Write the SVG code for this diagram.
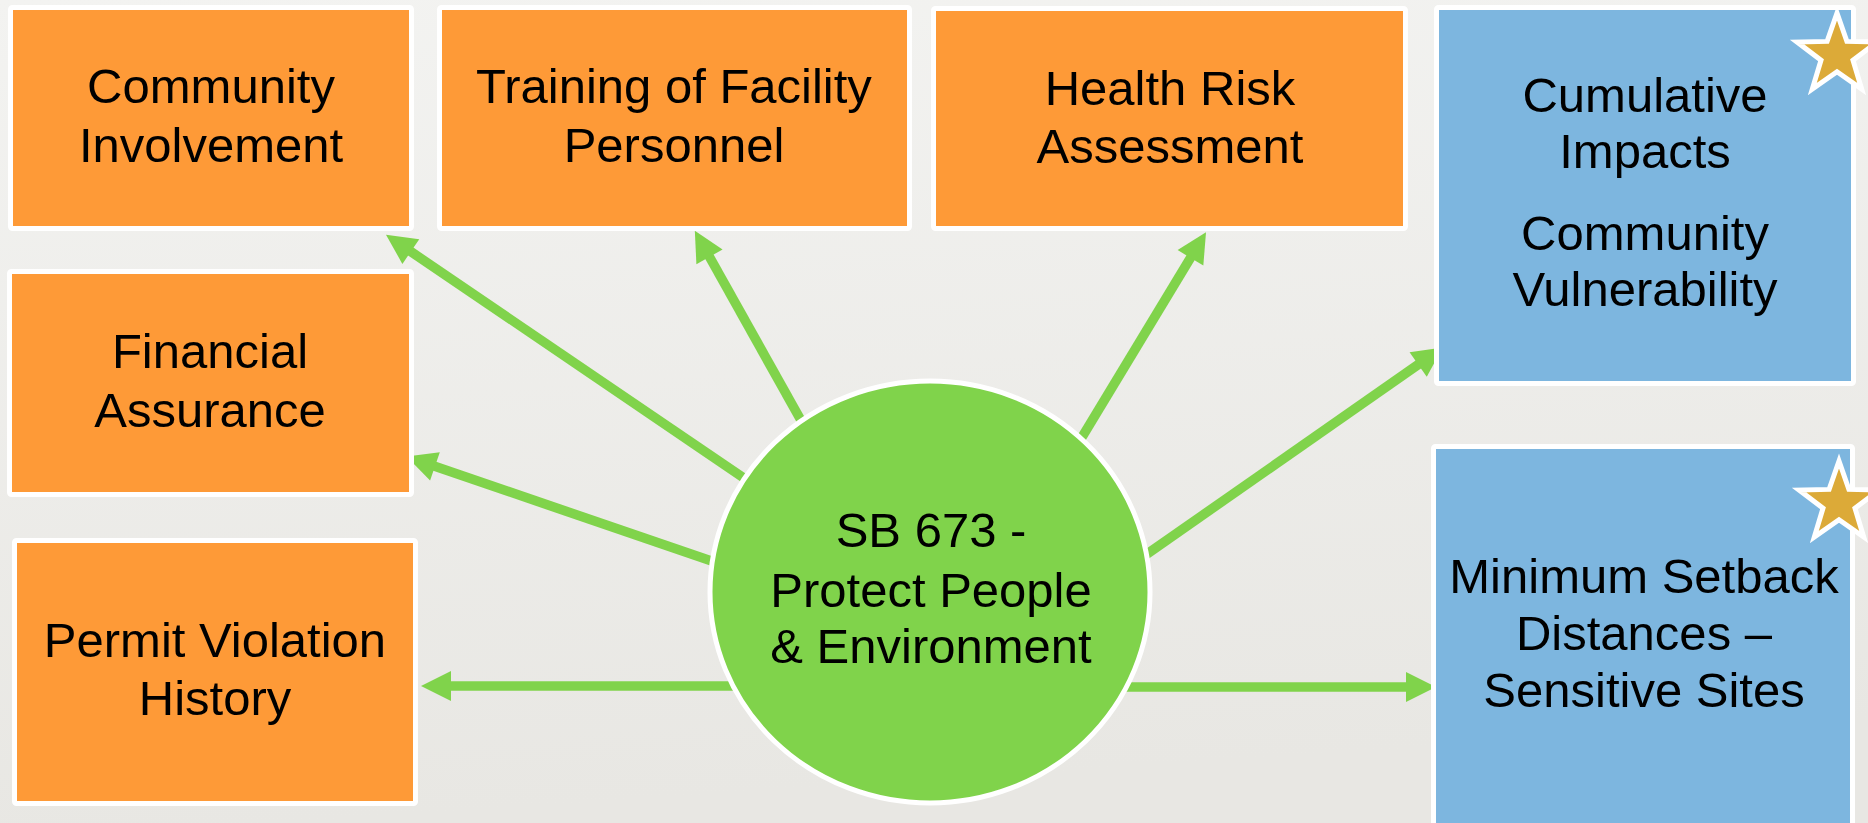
<svg xmlns="http://www.w3.org/2000/svg" width="1868" height="823" viewBox="0 0 1868 823">
  <defs>
    <linearGradient id="bg" x1="0" y1="0" x2="0.15" y2="1">
      <stop offset="0" stop-color="#f3f3f1"/>
      <stop offset="1" stop-color="#e8e7e3"/>
    </linearGradient>
    <marker id="arrow" markerUnits="userSpaceOnUse" markerWidth="32" markerHeight="32" refX="1" refY="15" orient="auto" overflow="visible">
      <path d="M0,0 L30,15 L0,30 Z" fill="#80d34b"/>
    </marker>
    <path id="star" d="M0,-42 L9.87,-13.59 L39.94,-12.98 L15.98,5.19 L24.69,33.98 L0,16.8 L-24.69,33.98 L-15.98,5.19 L-39.94,-12.98 L-9.87,-13.59 Z"/>
  </defs>
  <style>
    .orange rect { fill: #fe9a37; stroke: #ffffff; stroke-width: 5; }
    .blue rect { fill: #7db6df; stroke: #ffffff; stroke-width: 5; }
    .label { font-family: "Liberation Sans", Arial, sans-serif; font-size: 49px; fill: #000000; text-anchor: middle; }
    .conn line { stroke: #80d34b; stroke-width: 9.5; marker-end: url(#arrow); }
    .star { fill: #dcaa38; stroke: #ffffff; stroke-width: 5; stroke-linejoin: miter; }
  </style>
  <rect x="0" y="0" width="1868" height="823" fill="url(#bg)"/>

  <g id="connectors" class="conn">
    <line x1="763" y1="491" x2="410" y2="251"/>
    <line x1="732" y1="568" x2="434" y2="466"/>
    <line x1="812" y1="440" x2="709" y2="256"/>
    <line x1="1070" y1="457" x2="1191" y2="257"/>
    <line x1="1127" y1="568" x2="1419" y2="364"/>
    <line x1="1100" y1="687" x2="1407" y2="687"/>
    <line x1="755" y1="686" x2="450" y2="686"/>
  </g>

  <g id="community-involvement" class="orange">
    <rect x="10.5" y="7.5" width="401" height="221" rx="2"/>
    <text class="label" x="211" y="103">Community</text>
    <text class="label" x="211" y="162">Involvement</text>
  </g>
  <g id="training" class="orange">
    <rect x="439.5" y="7.5" width="470" height="221" rx="2"/>
    <text class="label" x="674" y="103">Training of Facility</text>
    <text class="label" x="674" y="162">Personnel</text>
  </g>
  <g id="health-risk" class="orange">
    <rect x="933.5" y="8.5" width="472" height="220" rx="2"/>
    <text class="label" x="1170" y="105">Health Risk</text>
    <text class="label" x="1170" y="163">Assessment</text>
  </g>
  <g id="financial-assurance" class="orange">
    <rect x="9.5" y="271.5" width="402" height="223" rx="2"/>
    <text class="label" x="210" y="368">Financial</text>
    <text class="label" x="210" y="427">Assurance</text>
  </g>
  <g id="permit-violation" class="orange">
    <rect x="14.5" y="540.5" width="401" height="263" rx="2"/>
    <text class="label" x="215" y="657">Permit Violation</text>
    <text class="label" x="215" y="715">History</text>
  </g>
  <g id="cumulative-impacts" class="blue">
    <rect x="1436.5" y="7.5" width="417" height="376" rx="2"/>
    <text class="label" x="1645" y="112">Cumulative</text>
    <text class="label" x="1645" y="168">Impacts</text>
    <text class="label" x="1645" y="250">Community</text>
    <text class="label" x="1645" y="306">Vulnerability</text>
    <use href="#star" class="star" x="1837" y="55"/>
  </g>
  <g id="minimum-setback" class="blue">
    <rect x="1433.5" y="446.5" width="419" height="420" rx="2"/>
    <text class="label" x="1644" y="593">Minimum Setback</text>
    <text class="label" x="1644" y="650">Distances –</text>
    <text class="label" x="1644" y="707">Sensitive Sites</text>
    <use href="#star" class="star" x="1839" y="503"/>
  </g>
  <g id="sb673">
    <ellipse cx="930" cy="592" rx="220" ry="211" fill="#80d34b" stroke="#ffffff" stroke-width="5"/>
    <text class="label" x="931" y="547">SB 673 -</text>
    <text class="label" x="931" y="607">Protect People</text>
    <text class="label" x="931" y="663">&amp; Environment</text>
  </g>
</svg>
